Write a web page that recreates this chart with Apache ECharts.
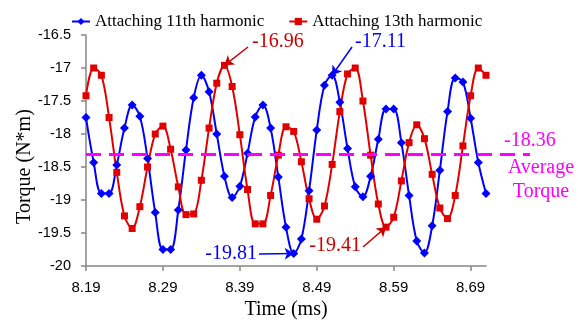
<!DOCTYPE html>
<html>
<head>
<meta charset="utf-8">
<script src="https://cdn.jsdelivr.net/npm/echarts@6/dist/echarts.min.js"></script>
<style>
  html, body { margin: 0; padding: 0; background: #fff; }
  #chart { width: 583px; height: 325px; }
</style>
</head>
<body>
<div id="chart"></div>
<script>
// time axis (ms), one sample every 0.01 ms
const times = [
  '8.19', '8.20', '8.21', '8.22', '8.23', '8.24', '8.25', '8.26', '8.27', '8.28',
  '8.29', '8.30', '8.31', '8.32', '8.33', '8.34', '8.35', '8.36', '8.37', '8.38',
  '8.39', '8.40', '8.41', '8.42', '8.43', '8.44', '8.45', '8.46', '8.47', '8.48',
  '8.49', '8.50', '8.51', '8.52', '8.53', '8.54', '8.55', '8.56', '8.57', '8.58',
  '8.59', '8.60', '8.61', '8.62', '8.63', '8.64', '8.65', '8.66', '8.67', '8.68',
  '8.69', '8.70', '8.71'
];

// torque (N*m)
const harmonic11 = [
  -17.75, -18.43, -18.90, -18.90, -18.47, -17.91, -17.56, -17.73, -18.37, -19.19,
  -19.75, -19.75, -19.15, -18.24, -17.45, -17.11, -17.36, -18.00, -18.64, -18.96,
  -18.79, -18.29, -17.74, -17.56, -17.91, -18.65, -19.41, -19.81, -19.59, -18.86,
  -17.94, -17.26, -17.11, -17.52, -18.22, -18.80, -18.95, -18.64, -18.08, -17.62,
  -17.62, -18.13, -18.93, -19.62, -19.80, -19.39, -18.55, -17.66, -17.15, -17.21,
  -17.76, -18.43, -18.90
];
const harmonic13 = [
  -17.42, -17.00, -17.11, -17.75, -18.58, -19.24, -19.43, -19.10, -18.50, -18.00,
  -17.88, -18.23, -18.80, -19.22, -19.21, -18.70, -17.91, -17.23, -16.96, -17.28,
  -18.01, -18.84, -19.36, -19.36, -18.93, -18.32, -17.89, -17.96, -18.42, -18.98,
  -19.29, -19.09, -18.46, -17.66, -17.09, -17.00, -17.50, -18.32, -19.06, -19.41,
  -19.26, -18.71, -18.13, -17.86, -18.07, -18.61, -19.12, -19.28, -18.93, -18.18,
  -17.42, -17.00, -17.11
];

const averageTorque = -18.3;   // where the dashed line sits
const averageText = '-18.36';

const BLUE = '#0000ff';
const RED = '#e00000';
const RED_TEXT = '#cc0000';
const MAGENTA = '#ff00ff';
const SERIF = '"Liberation Serif", "Times New Roman", serif';
const SANS = '"Liberation Sans", Arial, sans-serif';

// callouts: which point, label text and where the arrow tail / label sit
const callouts = [
  { s: 1, i: 18, text: '-16.96', color: RED_TEXT, tail: [248, 47], tx: 252, ty: 42, align: 'left' },
  { s: 0, i: 32, text: '-17.11', color: BLUE, tail: [352, 47], tx: 355, ty: 42, align: 'left' },
  { s: 0, i: 27, text: '-19.81', color: BLUE, tail: [259, 254], tx: 257, ty: 254, align: 'right' },
  { s: 1, i: 39, text: '-19.41', color: RED_TEXT, tail: [363, 247], tx: 361, ty: 246, align: 'right' }
];

const chart = echarts.init(document.getElementById('chart'), null, { renderer: 'canvas' });

const axisGray = '#868686';

chart.setOption({
  animation: false,
  grid: { left: 86, right: 97, top: 35, bottom: 55 },
  legend: {
    top: 8,
    left: 66,
    itemWidth: 18,
    itemHeight: 9,
    itemGap: 24,
    textStyle: { fontFamily: SERIF, fontSize: 17, color: '#000' },
    data: ['Attaching 11th harmonic', 'Attaching 13th harmonic']
  },
  xAxis: {
    type: 'category',
    data: times,
    boundaryGap: false,
    name: 'Time (ms)',
    nameLocation: 'middle',
    nameGap: 31,
    nameTextStyle: { fontFamily: SERIF, fontSize: 20, color: '#000' },
    axisLine: { lineStyle: { color: axisGray, width: 1.5 } },
    axisTick: { interval: 9, length: 5, lineStyle: { color: axisGray, width: 1.5 } },
    axisLabel: { interval: 9, margin: 14, fontFamily: SANS, fontSize: 15, color: '#000' },
    splitLine: { show: false }
  },
  yAxis: {
    type: 'value',
    min: -20,
    max: -16.5,
    interval: 0.5,
    name: 'Torque (N*m)',
    nameLocation: 'middle',
    nameGap: 51,
    nameMoveOverlap: false,
    nameTextStyle: { fontFamily: SERIF, fontSize: 20, color: '#000', padding: [0, 32, 0, 0] },
    axisLine: { show: true, lineStyle: { color: axisGray, width: 1.5 } },
    axisTick: { show: true, length: 5, lineStyle: { color: axisGray, width: 1.5 } },
    axisLabel: { margin: 15, fontFamily: SANS, fontSize: 14.5, color: '#000' },
    splitLine: { show: false }
  },
  series: [
    {
      name: 'Attaching 11th harmonic',
      type: 'line',
      data: harmonic11,
      smooth: 0.35,
      color: BLUE,
      lineStyle: { width: 2 },
      symbol: 'diamond',
      symbolSize: 9,
      showAllSymbol: true
    },
    {
      name: 'Attaching 13th harmonic',
      type: 'line',
      data: harmonic13,
      smooth: 0.35,
      color: RED,
      lineStyle: { width: 2 },
      symbol: 'rect',
      symbolSize: 7,
      showAllSymbol: true
    }
  ]
});

// arrows and dashed average need pixel positions from the axes
const arrowLines = [[], []];
const texts = [];
callouts.forEach((c) => {
  const vals = c.s === 0 ? harmonic11 : harmonic13;
  const head = chart.convertToPixel({ seriesIndex: c.s }, [c.i, vals[c.i]]);
  arrowLines[c.s].push([
    { x: c.tail[0], y: c.tail[1], symbol: 'none' },
    { x: head[0], y: head[1], symbol: 'arrow', symbolSize: 9,
      lineStyle: { color: c.color, width: 1.5, type: 'solid' } }
  ]);
  texts.push({
    type: 'text', x: c.tx, y: c.ty, z: 50,
    style: { text: c.text, fill: c.color, font: '20px ' + SERIF, align: c.align, verticalAlign: 'middle' }
  });
});

const left = chart.convertToPixel({ xAxisIndex: 0 }, 0);
const yAvg = chart.convertToPixel({ yAxisIndex: 0 }, averageTorque);
arrowLines[0].push([
  { x: left, y: yAvg, symbol: 'none' },
  { x: 530, y: yAvg, symbol: 'none', lineStyle: { color: MAGENTA, width: 3, type: [15, 8] } }
]);

texts.push(
  { type: 'text', x: 504, y: 141, z: 50,
    style: { text: averageText, fill: MAGENTA, font: '20px ' + SERIF, align: 'left', verticalAlign: 'middle' } },
  { type: 'text', x: 541, y: 168, z: 50,
    style: { text: 'Average', fill: MAGENTA, font: '20px ' + SERIF, align: 'center', verticalAlign: 'middle' } },
  { type: 'text', x: 541, y: 192, z: 50,
    style: { text: 'Torque', fill: MAGENTA, font: '20px ' + SERIF, align: 'center', verticalAlign: 'middle' } }
);

chart.setOption({
  series: arrowLines.map((d) => ({
    markLine: { silent: true, animation: false, label: { show: false }, data: d }
  })),
  graphic: texts
});
</script>
</body>
</html>
